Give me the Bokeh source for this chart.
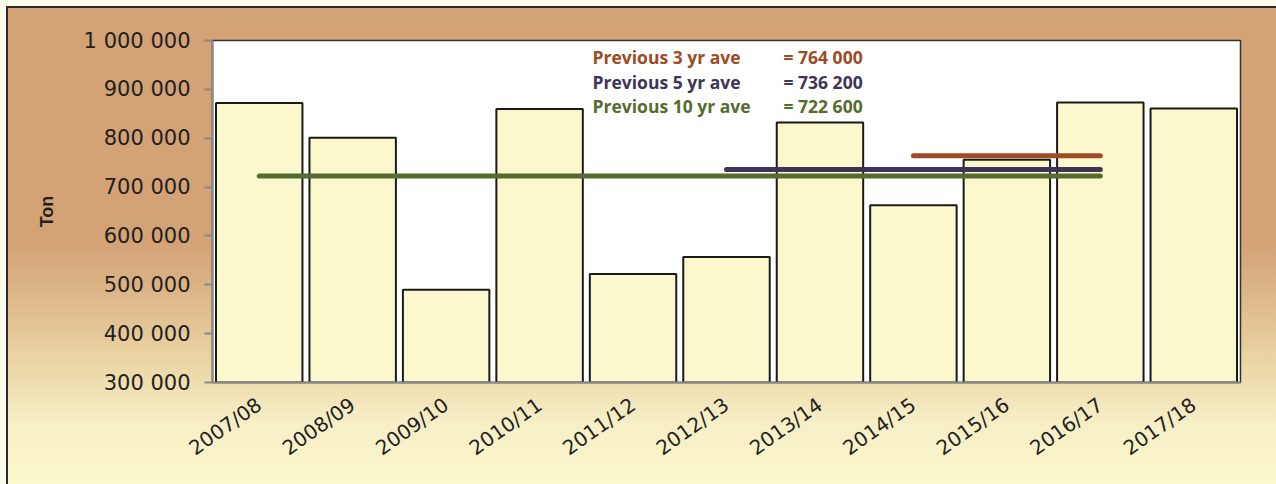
import math
from bokeh.plotting import figure
from bokeh.models import FactorRange, Range1d, FixedTicker, Label
from bokeh.embed import file_html
from bokeh.resources import INLINE

# ---- data ----
seasons = ["2007/08", "2008/09", "2009/10", "2010/11", "2011/12", "2012/13",
           "2013/14", "2014/15", "2015/16", "2016/17", "2017/18"]
tonnes = [872000, 801000, 490000, 860000, 522000, 557000,
          832000, 663000, 756000, 873000, 861000]

ave_names = ["Previous 3 yr ave", "Previous 5 yr ave", "Previous 10 yr ave"]
ave_values = [764000, 736200, 722600]
ave_texts = ["= 764 000", "= 736 200", "= 722 600"]
ave_start = ["2014/15", "2012/13", "2007/08"]
ave_end = "2016/17"
ave_colors = ["#9c4b24", "#3e3457", "#566b2e"]

y_ticks = [300000, 400000, 500000, 600000, 700000, 800000, 900000, 1000000]
y_tick_labels = ["300 000", "400 000", "500 000", "600 000", "700 000",
                 "800 000", "900 000", "1 000 000"]

# ---- figure ----
p = figure(x_range=FactorRange(*seasons, range_padding=0),
           y_range=Range1d(300000, 1000000),
           width=1276, height=484,
           min_border_left=212, min_border_right=36,
           min_border_top=40, min_border_bottom=102,
           output_backend="svg", toolbar_location=None)

p.styles = {"background": "linear-gradient(to bottom, #d3a275 0%, #d3a275 50%, "
                          "#dcb587 60%, #ead3a2 74%, #f7eec6 87%, #fbf8cd 100%)",
            "box-shadow": "inset 6px 6px 0 0 #fdfbec, inset 8px 8px 0 0 #2b2b2b"}
p.border_fill_color = None
p.background_fill_color = "white"
p.outline_line_color = "#333333"
p.outline_line_width = 1.5
p.grid.visible = False

p.vbar(x=seasons, top=tonnes, bottom=300000, width=0.925,
       fill_color="#fbf8cd", line_color="#1a1a1a", line_width=2)

for val, start, col in zip(ave_values, ave_start, ave_colors):
    p.line(x=[start, ave_end], y=[val, val], line_color=col, line_width=5,
           line_cap="round")

row_y = [967000, 916000, 865000]
for name, txt, col, yy in zip(ave_names, ave_texts, ave_colors, row_y):
    p.add_layout(Label(x=4.066, y=yy, text=name, text_color=col,
                       text_font="Open Sans", text_font_style="bold",
                       text_font_size="17.5px", text_baseline="middle", text_align="left"))
    p.add_layout(Label(x=6.11, y=yy, text=txt, text_color=col,
                       text_font="Open Sans", text_font_style="bold",
                       text_font_size="17.5px", text_baseline="middle", text_align="left"))

# y axis
ya = p.yaxis[0]
ya.ticker = FixedTicker(ticks=y_ticks)
ya.major_label_overrides = {t: l for t, l in zip(y_ticks, y_tick_labels)}
ya.axis_line_color = "#888888"
ya.axis_line_width = 2
ya.major_tick_line_color = "#888888"
ya.major_tick_line_width = 2
ya.major_tick_out = 8
ya.major_tick_in = 0
ya.minor_tick_line_color = None
ya.major_label_standoff = 14
ya.major_label_text_font = "DejaVu Sans"
ya.major_label_text_font_size = "21px"
ya.major_label_text_color = "#231f20"
ya.axis_label = "Ton"
ya.axis_label_text_font = "Liberation Sans"
ya.axis_label_text_font_style = "bold"
ya.axis_label_text_font_size = "18px"
ya.axis_label_text_color = "#231f20"
ya.axis_label_standoff = 24

# x axis
xa = p.xaxis[0]
xa.axis_line_color = "#888888"
xa.axis_line_width = 2
xa.major_tick_line_color = None
xa.minor_tick_line_color = None
xa.major_label_orientation = math.radians(35)
xa.major_label_standoff = 14
xa.major_label_text_font = "DejaVu Sans"
xa.major_label_text_font_size = "20px"
xa.major_label_text_color = "#231f20"

html = file_html(p, INLINE)
html = html.replace("</head>", "<style>body{background:#fdfbec;}</style></head>", 1)
open("out.html", "w").write(html)
